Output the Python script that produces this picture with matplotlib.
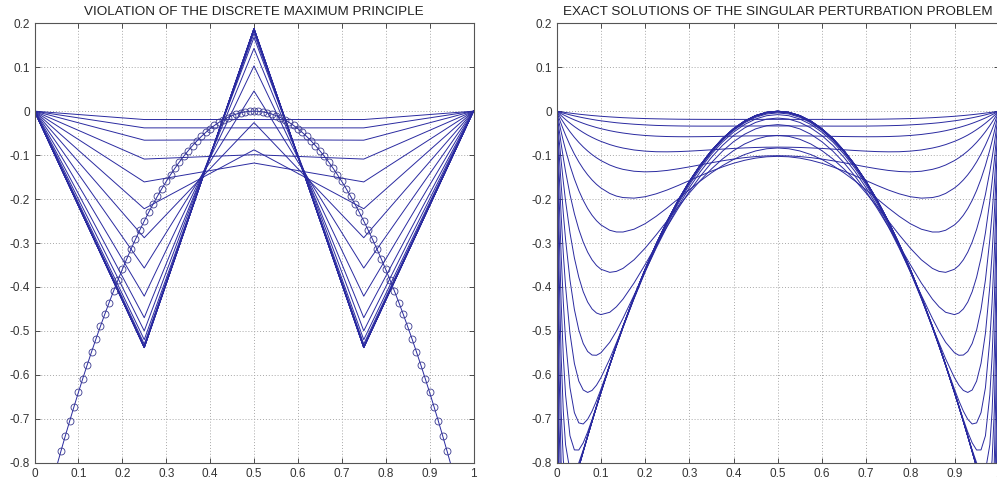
import numpy as np
import matplotlib
matplotlib.use("Agg")
import matplotlib.pyplot as plt

plt.rcParams['font.family'] = ['Liberation Sans', 'DejaVu Sans']

# ---------------- titles / ticks ----------------
left_title = "VIOLATION OF THE DISCRETE MAXIMUM PRINCIPLE"
right_title = "EXACT SOLUTIONS OF THE SINGULAR PERTURBATION PROBLEM"

x_ticks = [0, 0.1, 0.2, 0.3, 0.4, 0.5, 0.6, 0.7, 0.8, 0.9, 1]
x_ticklabels = ["0", "0.1", "0.2", "0.3", "0.4", "0.5", "0.6", "0.7", "0.8", "0.9", "1"]
y_ticks = [-0.8, -0.7, -0.6, -0.5, -0.4, -0.3, -0.2, -0.1, 0, 0.1, 0.2]
y_ticklabels = ["-0.8", "-0.7", "-0.6", "-0.5", "-0.4", "-0.3", "-0.2", "-0.1", "0", "0.1", "0.2"]

# ---------------- left panel data ----------------
node_x = [0.0, 0.25, 0.5, 0.75, 1.0]
# value at x=0.25 (same at 0.75) and at x=0.5 for each discrete solution
node_a = [-0.019, -0.038, -0.066, -0.109, -0.161, -0.222, -0.288, -0.357, -0.421,
          -0.470, -0.500, -0.520, -0.530, -0.535, -0.537, -0.538, -0.538, -0.538,
          -0.538, -0.538, -0.538]
node_b = [-0.019, -0.038, -0.065, -0.099, -0.118, -0.088, -0.026, 0.046, 0.103,
          0.143, 0.168, 0.177, 0.183, 0.186, 0.187, 0.188, 0.188, 0.188,
          0.188, 0.188, 0.188]

circ_x = np.arange(5, 96) / 100.0
circ_y = [-0.8100, -0.7744, -0.7396, -0.7056, -0.6724, -0.6400, -0.6084, -0.5776, -0.5476,
          -0.5184, -0.4900, -0.4624, -0.4356, -0.4096, -0.3844, -0.3600, -0.3364, -0.3136,
          -0.2916, -0.2704, -0.2500, -0.2304, -0.2116, -0.1936, -0.1764, -0.1600, -0.1444,
          -0.1296, -0.1156, -0.1024, -0.0900, -0.0784, -0.0676, -0.0576, -0.0484, -0.0400,
          -0.0324, -0.0256, -0.0196, -0.0144, -0.0100, -0.0064, -0.0036, -0.0016, -0.0004,
          0.0000,
          -0.0004, -0.0016, -0.0036, -0.0064, -0.0100, -0.0144, -0.0196, -0.0256, -0.0324,
          -0.0400, -0.0484, -0.0576, -0.0676, -0.0784, -0.0900, -0.1024, -0.1156, -0.1296,
          -0.1444, -0.1600, -0.1764, -0.1936, -0.2116, -0.2304, -0.2500, -0.2704, -0.2916,
          -0.3136, -0.3364, -0.3600, -0.3844, -0.4096, -0.4356, -0.4624, -0.4900, -0.5184,
          -0.5476, -0.5776, -0.6084, -0.6400, -0.6724, -0.7056, -0.7396, -0.7744, -0.8100]

# ---------------- right panel data (left half; curves are symmetric about x=0.5) ----------------
half_x = [0, 0.0025, 0.005, 0.01, 0.015, 0.02, 0.03, 0.04, 0.05, 0.06, 0.07, 0.08, 0.09,
          0.1, 0.12, 0.135, 0.15, 0.175, 0.2, 0.225, 0.25, 0.275, 0.3, 0.325, 0.35,
          0.375, 0.4, 0.425, 0.45, 0.475, 0.5]
sol_half = [
    [0, -0.0004, -0.0008, -0.0015, -0.0023, -0.0030, -0.0043, -0.0056, -0.0068, -0.0079, -0.0089, -0.0099, -0.0107, -0.0116, -0.0130, -0.0139, -0.0148, -0.0159, -0.0168, -0.0174, -0.0179, -0.0183, -0.0185, -0.0186, -0.0187, -0.0187, -0.0187, -0.0187, -0.0187, -0.0186, -0.0186],
    [0, -0.0008, -0.0015, -0.0030, -0.0044, -0.0057, -0.0083, -0.0107, -0.0129, -0.0150, -0.0169, -0.0187, -0.0204, -0.0219, -0.0245, -0.0263, -0.0277, -0.0297, -0.0312, -0.0324, -0.0331, -0.0336, -0.0339, -0.0340, -0.0340, -0.0340, -0.0339, -0.0338, -0.0337, -0.0336, -0.0336],
    [0, -0.0014, -0.0028, -0.0055, -0.0081, -0.0106, -0.0154, -0.0198, -0.0238, -0.0276, -0.0311, -0.0342, -0.0372, -0.0398, -0.0444, -0.0473, -0.0497, -0.0530, -0.0553, -0.0568, -0.0577, -0.0581, -0.0582, -0.0580, -0.0577, -0.0573, -0.0568, -0.0564, -0.0561, -0.0559, -0.0558],
    [0, -0.0026, -0.0050, -0.0099, -0.0145, -0.0190, -0.0273, -0.0350, -0.0420, -0.0485, -0.0544, -0.0596, -0.0644, -0.0687, -0.0760, -0.0804, -0.0839, -0.0883, -0.0909, -0.0923, -0.0925, -0.0920, -0.0909, -0.0895, -0.0879, -0.0863, -0.0848, -0.0836, -0.0826, -0.0820, -0.0818],
    [0, -0.0044, -0.0087, -0.0171, -0.0250, -0.0326, -0.0467, -0.0595, -0.0710, -0.0814, -0.0906, -0.0988, -0.1060, -0.1124, -0.1225, -0.1282, -0.1324, -0.1367, -0.1381, -0.1373, -0.1348, -0.1311, -0.1268, -0.1221, -0.1174, -0.1129, -0.1090, -0.1057, -0.1033, -0.1018, -0.1013],
    [0, -0.0074, -0.0147, -0.0287, -0.0419, -0.0543, -0.0772, -0.0976, -0.1155, -0.1312, -0.1448, -0.1565, -0.1665, -0.1748, -0.1872, -0.1932, -0.1966, -0.1979, -0.1947, -0.1881, -0.1793, -0.1690, -0.1580, -0.1470, -0.1365, -0.1269, -0.1186, -0.1118, -0.1068, -0.1038, -0.1028],
    [0, -0.0123, -0.0242, -0.0468, -0.0680, -0.0878, -0.1235, -0.1542, -0.1806, -0.2029, -0.2216, -0.2369, -0.2492, -0.2588, -0.2710, -0.2749, -0.2750, -0.2686, -0.2561, -0.2393, -0.2200, -0.1995, -0.1788, -0.1589, -0.1404, -0.1239, -0.1099, -0.0987, -0.0905, -0.0855, -0.0838],
    [0, -0.0197, -0.0385, -0.0741, -0.1067, -0.1368, -0.1895, -0.2332, -0.2690, -0.2979, -0.3208, -0.3383, -0.3511, -0.3597, -0.3668, -0.3646, -0.3578, -0.3382, -0.3118, -0.2815, -0.2495, -0.2174, -0.1864, -0.1576, -0.1316, -0.1088, -0.0898, -0.0747, -0.0639, -0.0573, -0.0551],
    [0, -0.0305, -0.0594, -0.1129, -0.1609, -0.2040, -0.2767, -0.3339, -0.3779, -0.4108, -0.4344, -0.4501, -0.4593, -0.4630, -0.4577, -0.4452, -0.4277, -0.3910, -0.3492, -0.3056, -0.2624, -0.2211, -0.1827, -0.1480, -0.1174, -0.0911, -0.0695, -0.0525, -0.0403, -0.0330, -0.0306],
    [0, -0.0459, -0.0887, -0.1661, -0.2333, -0.2913, -0.3840, -0.4512, -0.4980, -0.5287, -0.5469, -0.5550, -0.5555, -0.5499, -0.5260, -0.5007, -0.4715, -0.4188, -0.3646, -0.3119, -0.2621, -0.2161, -0.1745, -0.1375, -0.1053, -0.0779, -0.0555, -0.0381, -0.0256, -0.0181, -0.0156],
    [0, -0.0675, -0.1291, -0.2364, -0.3251, -0.3980, -0.5055, -0.5740, -0.6143, -0.6345, -0.6401, -0.6355, -0.6236, -0.6067, -0.5638, -0.5273, -0.4895, -0.4266, -0.3661, -0.3096, -0.2575, -0.2102, -0.1679, -0.1303, -0.0978, -0.0703, -0.0478, -0.0303, -0.0178, -0.0103, -0.0078],
    [0, -0.0974, -0.1834, -0.3258, -0.4356, -0.5194, -0.6292, -0.6860, -0.7094, -0.7119, -0.7012, -0.6826, -0.6592, -0.6330, -0.5771, -0.5346, -0.4928, -0.4260, -0.3638, -0.3064, -0.2539, -0.2064, -0.1639, -0.1264, -0.0939, -0.0664, -0.0439, -0.0264, -0.0139, -0.0064, -0.0039],
    [0, -0.1382, -0.2545, -0.4340, -0.5592, -0.6450, -0.7387, -0.7709, -0.7711, -0.7548, -0.7302, -0.7016, -0.6712, -0.6403, -0.5791, -0.5347, -0.4919, -0.4245, -0.3620, -0.3045, -0.2520, -0.2045, -0.1620, -0.1245, -0.0920, -0.0645, -0.0420, -0.0245, -0.0120, -0.0045, -0.0020],
    [0, -0.1927, -0.3445, -0.5565, -0.6844, -0.7588, -0.8183, -0.8206, -0.8001, -0.7710, -0.7388, -0.7059, -0.6731, -0.6409, -0.5786, -0.5339, -0.4910, -0.4235, -0.3610, -0.3035, -0.2510, -0.2035, -0.1610, -0.1235, -0.0910, -0.0635, -0.0410, -0.0235, -0.0110, -0.0035, -0.0010],
    [0, -0.2640, -0.4530, -0.6827, -0.7947, -0.8447, -0.8626, -0.8409, -0.8088, -0.7744, -0.7400, -0.7061, -0.6729, -0.6405, -0.5781, -0.5334, -0.4905, -0.4230, -0.3605, -0.3030, -0.2505, -0.2030, -0.1605, -0.1230, -0.0905, -0.0630, -0.0405, -0.0230, -0.0105, -0.0030, -0.0005],
    [0, -0.3541, -0.5757, -0.7970, -0.8749, -0.8951, -0.8795, -0.8459, -0.8101, -0.7746, -0.7398, -0.7058, -0.6726, -0.6402, -0.5778, -0.5331, -0.4902, -0.4227, -0.3602, -0.3027, -0.2502, -0.2027, -0.1602, -0.1227, -0.0902, -0.0627, -0.0402, -0.0227, -0.0102, -0.0027, -0.0002],
    [0, -0.4628, -0.7022, -0.8832, -0.9195, -0.9157, -0.8833, -0.8465, -0.8101, -0.7745, -0.7397, -0.7057, -0.6725, -0.6401, -0.5777, -0.5330, -0.4901, -0.4226, -0.3601, -0.3026, -0.2501, -0.2026, -0.1601, -0.1226, -0.0901, -0.0626, -0.0401, -0.0226, -0.0101, -0.0026, -0.0001],
    [0, -0.5855, -0.8165, -0.9337, -0.9366, -0.9209, -0.8837, -0.8465, -0.8101, -0.7745, -0.7397, -0.7057, -0.6725, -0.6401, -0.5777, -0.5330, -0.4901, -0.4226, -0.3601, -0.3026, -0.2501, -0.2026, -0.1601, -0.1226, -0.0901, -0.0626, -0.0401, -0.0226, -0.0101, -0.0026, -0.0001],
    [0, -0.7120, -0.9028, -0.9545, -0.9405, -0.9216, -0.8836, -0.8464, -0.8100, -0.7744, -0.7396, -0.7056, -0.6724, -0.6400, -0.5776, -0.5329, -0.4900, -0.4225, -0.3600, -0.3025, -0.2500, -0.2025, -0.1600, -0.1225, -0.0900, -0.0625, -0.0400, -0.0225, -0.0100, -0.0025, 0.0000],
    [0, -0.8264, -0.9533, -0.9597, -0.9409, -0.9216, -0.8836, -0.8464, -0.8100, -0.7744, -0.7396, -0.7056, -0.6724, -0.6400, -0.5776, -0.5329, -0.4900, -0.4225, -0.3600, -0.3025, -0.2500, -0.2025, -0.1600, -0.1225, -0.0900, -0.0625, -0.0400, -0.0225, -0.0100, -0.0025, 0.0000],
    [0, -0.9127, -0.9741, -0.9604, -0.9409, -0.9216, -0.8836, -0.8464, -0.8100, -0.7744, -0.7396, -0.7056, -0.6724, -0.6400, -0.5776, -0.5329, -0.4900, -0.4225, -0.3600, -0.3025, -0.2500, -0.2025, -0.1600, -0.1225, -0.0900, -0.0625, -0.0400, -0.0225, -0.0100, -0.0025, 0.0000],
]

LINE_COLOR = '#2a2aa0'
W, H = 997, 486

fig = plt.figure(figsize=(W / 100, H / 100), dpi=100)
ax1 = fig.add_axes([34.5 / W, (H - 462.7) / H, 439 / W, 439.4 / H])
ax2 = fig.add_axes([556.7 / W, (H - 462.7) / H, 442 / W, 439.4 / H])


def style(ax, title):
    ax.set_xlim(0, 1)
    ax.set_ylim(-0.8, 0.2)
    ax.set_xticks(x_ticks)
    ax.set_xticklabels(x_ticklabels)
    ax.set_yticks(y_ticks)
    ax.set_yticklabels(y_ticklabels)
    ax.grid(True, linestyle=(0, (1, 2)), color='#a8a8a8', linewidth=0.7)
    ax.tick_params(direction='in', top=True, right=True, length=3.5, width=0.6,
                   labelsize=8.5, colors='#333333', pad=3.5)
    for sp in ax.spines.values():
        sp.set_color('#555555')
        sp.set_linewidth(0.8)
    ax.set_title(title, fontsize=9.7, pad=6, color='#222222')


# left panel: discrete solutions (piecewise linear on 4 elements) + exact reduced solution
for a, b in zip(node_a, node_b):
    ax1.plot(node_x, [0.0, a, b, a, 0.0], color=LINE_COLOR, linewidth=0.7)
ax1.plot(circ_x, circ_y, color=LINE_COLOR, linewidth=0.7, marker='o', markersize=5,
         markerfacecolor='none', markeredgecolor='#3a3a90', markeredgewidth=0.6)
style(ax1, left_title)

# right panel: exact solutions for decreasing epsilon
hx = np.array(half_x)
full_x = np.concatenate([hx, 1.0 - hx[-2::-1]])
for row in sol_half:
    r = np.array(row)
    ax2.plot(full_x, np.concatenate([r, r[-2::-1]]), color=LINE_COLOR, linewidth=0.7)
style(ax2, right_title)

fig.savefig('out.png', dpi=100)
